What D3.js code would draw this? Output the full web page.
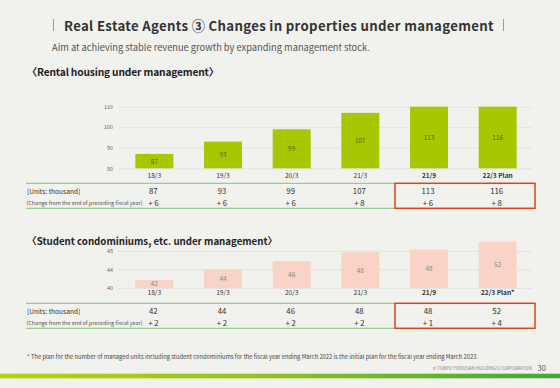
<!DOCTYPE html>
<html>
<head>
<meta charset="utf-8">
<script src="https://cdn.jsdelivr.net/npm/d3@7"></script>
<style>
  body { margin: 0; background: #f1f1ed; }
  svg { display: block; font-family: "Noto Sans CJK JP", "Noto Sans", sans-serif; }
</style>
</head>
<body>
<div id="slide"></div>
<script>
// chart data
var rentalCategories = ["18/3", "19/3", "20/3", "21/3", "21/9", "22/3 Plan"];
var rentalUnits = [87, 93, 99, 107, 113, 116];
var rentalChange = [6, 6, 6, 8, 6, 8];
var rentalTicks = [80, 90, 100, 110];

var studentCategories = ["18/3", "19/3", "20/3", "21/3", "21/9", "22/3 Plan*"];
// bar heights, table shows them rounded
var studentUnits = [41.7, 44.0, 45.8, 47.7, 48.3, 52];
var studentChange = [2, 2, 2, 2, 1, 4];
var studentTicks = [40, 44, 48];

var highlightFrom = 4; // 21/9 and 22/3 are boxed in red

var W = 560, H = 388;
var fmt = d3.format(".0f");

var svg = d3.select("#slide")
            .append("svg")
            .attr("width", W)
            .attr("height", H);

var defs = svg.append("defs");
var grad = defs.append("linearGradient").attr("id", "footbar");
grad.append("stop").attr("offset", "0%").attr("stop-color", "#b7d200");
grad.append("stop").attr("offset", "45%").attr("stop-color", "#97c31a");
grad.append("stop").attr("offset", "100%").attr("stop-color", "#3ea83a");

// title block
svg.append("line").attr("x1", 53.5).attr("x2", 53.5).attr("y1", 19).attr("y2", 31)
   .attr("stroke", "#9a9a9a").attr("stroke-width", 1);
svg.append("line").attr("x1", 503.5).attr("x2", 503.5).attr("y1", 19).attr("y2", 31)
   .attr("stroke", "#9a9a9a").attr("stroke-width", 1);
svg.append("text")
   .attr("x", 64).attr("y", 25)
   .attr("dominant-baseline", "central")
   .attr("font-size", 13.2).attr("font-weight", "bold")
   .attr("letter-spacing", 0.33)
   .attr("fill", "#333")
   .text("Real Estate Agents ③ Changes in properties under management");

svg.append("text")
   .attr("x", 52).attr("y", 46.5)
   .attr("dominant-baseline", "central")
   .attr("font-size", 9.3)
   .attr("fill", "#555")
   .text("Aim at achieving stable revenue growth by expanding management stock.");

svg.append("text")
   .attr("x", 27).attr("y", 71)
   .attr("dominant-baseline", "central")
   .attr("font-size", 10.2).attr("font-weight", "bold")
   .attr("letter-spacing", -0.15)
   .attr("fill", "#222")
   .text("〈Rental housing under management〉");

svg.append("text")
   .attr("x", 27).attr("y", 241.3)
   .attr("dominant-baseline", "central")
   .attr("font-size", 9.7).attr("font-weight", "bold")
   .attr("fill", "#222")
   .text("〈Student condominiums, etc. under management〉");


function drawBars(cats, values, ticks, y, barColor, labelColor, catY){

    var x = d3.scaleBand()
              .domain(cats)
              .range([120, 532])
              .paddingInner(0.447)
              .paddingOuter(0.2235);

    var g = svg.append("g");

    // grid + y ticks
    var axis = d3.axisLeft(y)
                 .tickValues(ticks)
                 .tickSize(-(532 - 118))
                 .tickPadding(5);
    var ax = g.append("g")
              .attr("transform", "translate(118,0)")
              .call(axis);
    ax.select(".domain").remove();
    ax.selectAll(".tick line").attr("stroke", "#dcdcd8").attr("stroke-width", 0.7);
    ax.selectAll(".tick text")
      .attr("font-family", "Noto Sans CJK JP")
      .attr("font-size", 5.4).attr("fill", "#666");

    var base = y.domain()[0];
    g.selectAll("rect.bar")
     .data(values)
     .enter()
     .append("rect")
     .attr("class", "bar")
     .attr("x", function(d, i){ return x(cats[i]) })
     .attr("width", x.bandwidth())
     .attr("y", function(d){ return y(d) })
     .attr("height", function(d){ return y(base) - y(d) })
     .attr("fill", barColor);

    g.selectAll("text.val")
     .data(values)
     .enter()
     .append("text")
     .attr("class", "val")
     .attr("x", function(d, i){ return x(cats[i]) + x.bandwidth()/2 })
     .attr("y", function(d){ return Math.min((y(d) + y(base))/2, y(base) - 4.5) })
     .attr("text-anchor", "middle")
     .attr("dominant-baseline", "central")
     .attr("font-size", 6.4)
     .attr("fill", labelColor)
     .text(function(d){ return fmt(d) });

    g.selectAll("text.cat")
     .data(cats)
     .enter()
     .append("text")
     .attr("class", "cat")
     .attr("x", function(d){ return x(d) + x.bandwidth()/2 })
     .attr("y", catY)
     .attr("text-anchor", "middle")
     .attr("dominant-baseline", "central")
     .attr("font-size", 6.6)
     .attr("font-weight", function(d, i){ return i >= highlightFrom ? "bold" : "normal" })
     .attr("fill", "#333")
     .text(function(d){ return d });

    return x;
}


function drawTable(x, cats, values, changes, top){

    var g = svg.append("g");

    g.append("line").attr("x1", 26).attr("x2", 395).attr("y1", top).attr("y2", top)
     .attr("stroke", "#94cd8f").attr("stroke-width", 1.3);
    g.append("line").attr("x1", 26).attr("x2", 395).attr("y1", top + 25).attr("y2", top + 25)
     .attr("stroke", "#94cd8f").attr("stroke-width", 1.3);
    g.append("rect")
     .attr("x", 395).attr("y", top)
     .attr("width", 535 - 395).attr("height", 25)
     .attr("fill", "none")
     .attr("stroke", "#d8461e").attr("stroke-width", 1.5);

    g.append("text")
     .attr("x", 27).attr("y", top + 7.3)
     .attr("dominant-baseline", "central")
     .attr("font-size", 6.6).attr("fill", "#333")
     .text("[Units: thousand]");
    g.append("text")
     .attr("x", 26.5).attr("y", top + 19.3)
     .attr("dominant-baseline", "central")
     .attr("font-size", 5.45).attr("fill", "#555")
     .text("(Change from the end of preceding fiscal year)");

    g.selectAll("text.units")
     .data(values)
     .enter()
     .append("text")
     .attr("class", "units")
     .attr("x", function(d, i){ return x(cats[i]) + x.bandwidth()/2 - 1 })
     .attr("y", top + 7.3)
     .attr("text-anchor", "middle")
     .attr("dominant-baseline", "central")
     .attr("font-size", 7.8).attr("fill", "#333")
     .text(function(d){ return fmt(d) });

    g.selectAll("text.change")
     .data(changes)
     .enter()
     .append("text")
     .attr("class", "change")
     .attr("x", function(d, i){ return x(cats[i]) + x.bandwidth()/2 - 1 })
     .attr("y", top + 19.3)
     .attr("text-anchor", "middle")
     .attr("dominant-baseline", "central")
     .attr("font-size", 7.8).attr("fill", "#333")
     .text(function(d){ return "+ " + d });
}


// rental housing
var yRental = d3.scaleLinear()
                .domain([80, 110])
                .range([168.3, 106.7])
                .clamp(true);
var xRental = drawBars(rentalCategories, rentalUnits, rentalTicks, yRental, "#a7c800", "#4d5a14", 175.2);
drawTable(xRental, rentalCategories, rentalUnits, rentalChange, 183.3);

// student condominiums
var yStudent = d3.scaleLinear()
                 .domain([40, 50])
                 .range([288, 241.6])
                 .clamp(true);
var xStudent = drawBars(studentCategories, studentUnits, studentTicks, yStudent, "#f9d4c6", "#8a8682", 292);
drawTable(xStudent, studentCategories, studentUnits, studentChange, 303.3);

// footnote + footer
svg.append("text")
   .attr("x", 27).attr("y", 356.7)
   .attr("dominant-baseline", "central")
   .attr("font-size", 5.75).attr("fill", "#444")
   .text("* The plan for the number of managed units including student condominiums for the fiscal year ending March 2022 is the initial plan for the fiscal year ending March 2023.");

svg.append("text")
   .attr("x", 532).attr("y", 367.7)
   .attr("text-anchor", "end")
   .attr("dominant-baseline", "central")
   .attr("font-size", 4.3).attr("fill", "#777")
   .attr("letter-spacing", 0.2)
   .text("© TOKYU FUDOSAN HOLDINGS CORPORATION");
svg.append("text")
   .attr("x", 537.5).attr("y", 367.5)
   .attr("dominant-baseline", "central")
   .attr("font-size", 7.5).attr("fill", "#555")
   .text("30");

svg.append("rect")
   .attr("x", 0).attr("y", 373.7)
   .attr("width", W).attr("height", 4.6)
   .attr("fill", "url(#footbar)");
</script>
</body>
</html>
